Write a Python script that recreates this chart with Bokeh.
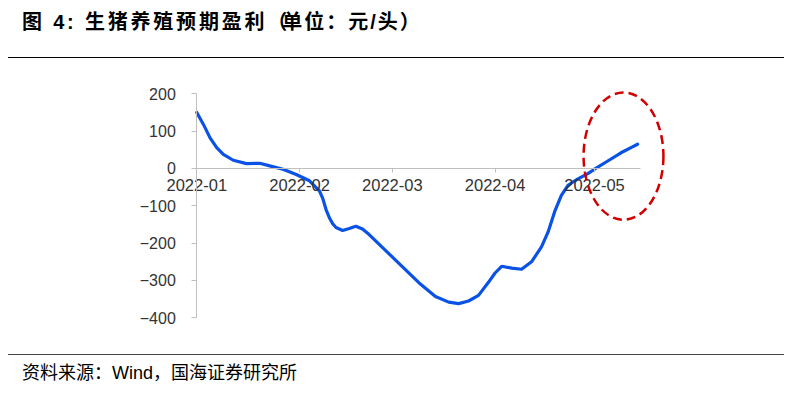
import pandas as pd
from bokeh.plotting import figure
from bokeh.models import Div, FixedTicker, DatetimeTickFormatter, Range1d
from bokeh.layouts import column
from bokeh.embed import file_html
from bokeh.resources import INLINE

# ---- data ----
dates = [
    "2022-01-01", "2022-01-03", "2022-01-05", "2022-01-07", "2022-01-09",
    "2022-01-12", "2022-01-16", "2022-01-20", "2022-01-23", "2022-01-27",
    "2022-01-31", "2022-02-04", "2022-02-07", "2022-02-08", "2022-02-09",
    "2022-02-10", "2022-02-11", "2022-02-12", "2022-02-14", "2022-02-16",
    "2022-02-18", "2022-02-20", "2022-02-22", "2022-02-27", "2022-03-04",
    "2022-03-09", "2022-03-14", "2022-03-18", "2022-03-21", "2022-03-24",
    "2022-03-27", "2022-03-30", "2022-04-01", "2022-04-03", "2022-04-06",
    "2022-04-09", "2022-04-12", "2022-04-15", "2022-04-17", "2022-04-19",
    "2022-04-21", "2022-04-23", "2022-04-26", "2022-04-29", "2022-05-01",
    "2022-05-05", "2022-05-09", "2022-05-12", "2022-05-14",
]
profit = [
    150, 118, 82, 56, 38,
    22, 13, 14, 7, -2,
    -16, -33, -60, -80, -110,
    -132, -148, -158, -166, -161,
    -155, -162, -177, -220, -263,
    -306, -343, -358, -362, -355,
    -340, -305, -280, -262, -267,
    -270, -250, -210, -170, -115,
    -72, -45, -28, -14, -2,
    20, 42, 56, 65,
]
x_tick_dates = ["2022-01-01", "2022-02-01", "2022-03-01", "2022-04-01", "2022-05-01"]
x_tick_labels = ["2022-01", "2022-02", "2022-03", "2022-04", "2022-05"]
y_ticks = [200, 100, 0, -100, -200, -300, -400]
axis_x_start, axis_x_end = "2022-01-01", "2022-05-15"
axis_y_start, axis_y_end = -400, 200

title_text = "图 4: 生猪养殖预期盈利（单位：元/头）"
source_text = "资料来源：Wind，国海证券研究所"

# highlight ellipse (data units)
hl_center_date = "2022-05-09 18:00"
hl_center_value = 33
hl_width_days = 24.1
hl_height_value = 341

# ---- layout constants (pixels) ----
PX_PER_DAY = 3.3142
PX_PER_UNIT = 0.37333
FRAME_LEFT, FRAME_RIGHT = 120, 700      # page x of plot frame
AXIS_LEFT = 196.3                       # page x of 2022-01-01
FRAME_TOP, FRAME_BOTTOM = 84, 325       # page y of plot frame
Y200_PX, YM400_PX = 93.3, 317.3

# ---- build ----
x = pd.to_datetime(dates)
tick_ms = [pd.Timestamp(d).value / 1e6 for d in x_tick_dates]
day0 = pd.Timestamp(axis_x_start)
x_lo = day0 - pd.Timedelta(days=(AXIS_LEFT - FRAME_LEFT) / PX_PER_DAY)
x_hi = day0 + pd.Timedelta(days=(FRAME_RIGHT - AXIS_LEFT) / PX_PER_DAY)
y_hi = axis_y_end + (Y200_PX - FRAME_TOP) / PX_PER_UNIT
y_lo = axis_y_start - (FRAME_BOTTOM - YM400_PX) / PX_PER_UNIT

LATIN_CJK = "'Liberation Sans', 'Noto Sans CJK SC', sans-serif"

title_div = Div(
    text=(
        f'<div style="box-sizing:border-box;font-family:{LATIN_CJK};font-weight:bold;'
        'font-size:20px;color:#000;margin-left:8px;width:776px;height:58px;'
        'padding:8px 0 0 14px;line-height:28px;border-bottom:1.5px solid #000;'
        'white-space:nowrap;">'
        '<span style="letter-spacing:2.8px;">图 4: 生猪养殖预期盈利</span>'
        '<span style="letter-spacing:-5px;">（</span>'
        '<span style="letter-spacing:2px;">单位：元/头）</span>'
        '</div>'
    ),
    width=792, height=58, margin=0,
)

fig_height = 296
p = figure(
    width=792, height=fig_height,
    x_axis_type="datetime",
    x_range=Range1d(x_lo, x_hi),
    y_range=Range1d(y_lo, y_hi),
    output_backend="svg", toolbar_location=None,
    min_border_left=FRAME_LEFT, min_border_right=792 - FRAME_RIGHT,
    min_border_top=FRAME_TOP - 58, min_border_bottom=354 - FRAME_BOTTOM,
    margin=0,
)
p.outline_line_color = None
p.grid.visible = False
p.background_fill_color = "white"
p.border_fill_color = "white"

p.line(x, profit, line_color="#0A52E6", line_width=3.2,
       line_join="round", line_cap="round")

ell = p.ellipse(
    x=[pd.Timestamp(hl_center_date)], y=[hl_center_value],
    width=[hl_width_days * 86400000], height=[hl_height_value],
    fill_alpha=0, line_color="#D00000", line_width=2.5, line_dash="9 5",
)
ell.level = "overlay"

xa = p.xaxis[0]
xa.fixed_location = 0
xa.bounds = (pd.Timestamp(axis_x_start).value / 1e6, pd.Timestamp(axis_x_end).value / 1e6)
xa.ticker = FixedTicker(ticks=tick_ms)
xa.formatter = DatetimeTickFormatter(
    days="%Y-%m", months="%Y-%m", years="%Y-%m", hours="%Y-%m",
    context=None,
)
xa.axis_line_color = "#BFBFBF"
xa.major_tick_line_color = "#BFBFBF"
xa.minor_tick_line_color = None
xa.major_tick_out = 4
xa.major_tick_in = 0
xa.major_label_standoff = 7
xa.major_label_text_font = "Liberation Sans"
xa.major_label_text_font_size = "16.5px"
xa.major_label_text_color = "#333333"

ya = p.yaxis[0]
ya.fixed_location = pd.Timestamp(axis_x_start).value / 1e6
ya.bounds = (axis_y_start, axis_y_end)
ya.ticker = FixedTicker(ticks=y_ticks)
ya.axis_line_color = "#BFBFBF"
ya.major_tick_line_color = "#BFBFBF"
ya.minor_tick_line_color = None
ya.major_tick_out = 5
ya.major_tick_in = 0
ya.major_label_standoff = 16
ya.major_label_text_font = "Liberation Sans"
ya.major_label_text_font_size = "16px"
ya.major_label_text_color = "#333333"

source_div = Div(
    text=(
        f'<div style="box-sizing:border-box;font-family:{LATIN_CJK};font-size:18px;'
        'color:#000;margin-left:8px;width:776px;height:36px;'
        'padding:4px 0 0 14px;line-height:28px;border-top:1.5px solid #444;'
        f'white-space:nowrap;">{source_text}</div>'
    ),
    width=792, height=36, margin=0,
)

layout = column(title_div, p, source_div, spacing=0, margin=0)

with open("out.html", "w") as f:
    f.write(file_html(layout, INLINE, title="chart"))
